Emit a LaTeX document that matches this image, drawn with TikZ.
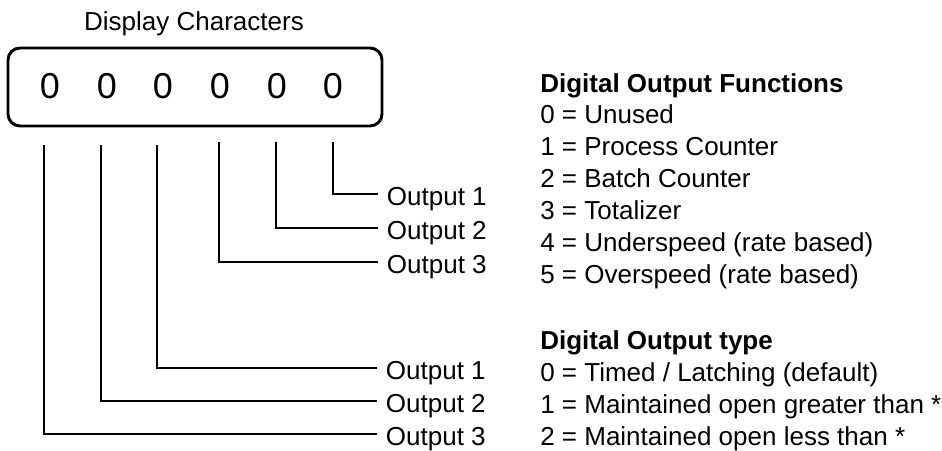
\documentclass[tikz,border=0pt]{standalone}
\usepackage{fontspec}
\setmainfont{Liberation Sans}
\begin{document}
\begin{tikzpicture}[x=0.75pt, y=-0.75pt]
  \useasboundingbox (0, 0) rectangle (942, 450);  % fixed page size
  \tikzstyle{txt}=[font=\fontsize{19.5}{23}\selectfont, inner sep=0pt]
  \tikzstyle{digit}=[font=\fontsize{27}{32}\selectfont, anchor=base]
  \tikzstyle{outlbl}=[txt, anchor=west, inner sep=6.5pt, text height=17.5pt, text depth=0pt]
  \tikzstyle{item}=[txt, anchor=base west]
  \tikzstyle{head}=[item, font=\fontsize{19.5}{23}\selectfont\bfseries]
  \tikzstyle{wire}=[line width=1.5pt]

  \node[txt, anchor=base] (title) at (194, 30) {Display Characters};
  \draw[line width=2.2pt, rounded corners=9pt] (8, 48) rectangle (382, 126);

  \node[digit] (d1) at (50, 98.5)  {0};
  \node[digit] (d2) at (107, 98.5) {0};
  \node[digit] (d3) at (163, 98.5) {0};
  \node[digit] (d4) at (220, 98.5) {0};
  \node[digit] (d5) at (277, 98.5) {0};
  \node[digit] (d6) at (333, 98.5) {0};

  \coordinate (t1) at (44, 145);
  \coordinate (t2) at (101, 145);
  \coordinate (t3) at (157, 145);
  \coordinate (t4) at (219, 142);
  \coordinate (t5) at (276, 142);
  \coordinate (t6) at (333, 142);

  \node[outlbl] (fn1) at (378, 194) {Output 1};
  \node[outlbl] (fn2) at (378, 228) {Output 2};
  \node[outlbl] (fn3) at (378, 262) {Output 3};
  \node[outlbl] (ty1) at (377, 368) {Output 1};
  \node[outlbl] (ty2) at (377, 401) {Output 2};
  \node[outlbl] (ty3) at (377, 434) {Output 3};

  \draw[wire] (t6) |- (fn1.west);
  \draw[wire] (t5) |- (fn2.west);
  \draw[wire] (t4) |- (fn3.west);
  \draw[wire] (t3) |- (ty1.west);
  \draw[wire] (t2) |- (ty2.west);
  \draw[wire] (t1) |- (ty3.west);

  % function codes
  \node[head] (fhead) at (540, 92)  {Digital Output Functions};
  \node[item] (f0)    at (540, 123) {0 = Unused};
  \node[item] (f1)    at (540, 155) {1 = Process Counter};
  \node[item] (f2)    at (540, 187) {2 = Batch Counter};
  \node[item] (f3)    at (540, 219) {3 = Totalizer};
  \node[item] (f4)    at (540, 251) {4 = Underspeed (rate based)};
  \node[item] (f5)    at (540, 283) {5 = Overspeed (rate based)};

  % type codes
  \node[head] (yhead) at (540, 349) {Digital Output type};
  \node[item] (y0)    at (540, 381) {0 = Timed / Latching (default)};
  \node[item] (y1)    at (540, 413) {1 = Maintained open greater than *};
  \node[item] (y2)    at (540, 445) {2 = Maintained open less than *};
\end{tikzpicture}
\end{document}
